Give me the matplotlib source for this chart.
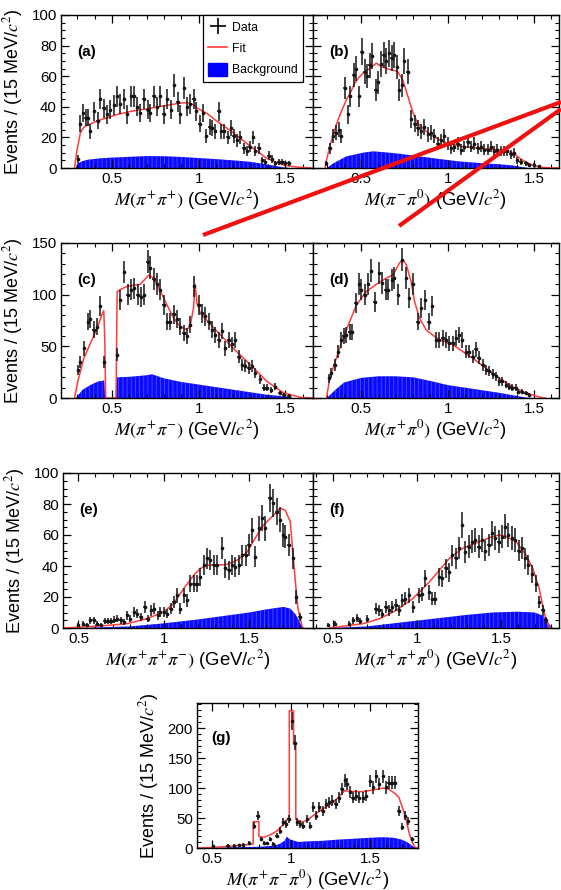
import numpy as np
import matplotlib
matplotlib.use('Agg')
import matplotlib.pyplot as plt
from matplotlib.lines import Line2D
from matplotlib.patches import Patch
from matplotlib.ticker import MultipleLocator, FixedLocator, FixedFormatter

plt.rcParams['font.family'] = ['Liberation Sans', 'DejaVu Sans']
plt.rcParams['mathtext.fontset'] = 'stix'
plt.rcParams['hatch.linewidth'] = 0.5

# ---------------- data (a) M(pi+ pi+) ----------------
a_x = [0.302,0.317,0.333,0.348,0.360,0.375,0.398,0.417,0.433,0.452,0.471,0.490,0.510,0.529,0.548,0.571,0.587,0.610,0.625,0.644,
       0.663,0.683,0.706,0.721,0.740,0.760,0.779,0.798,0.817,0.840,0.860,0.879,0.894,0.917,0.933,0.952,0.971,0.987,1.006,1.025,
       1.044,1.063,1.079,1.096,1.115,1.129,1.148,1.167,1.187,1.202,1.221,1.240,1.260,1.279,1.294,1.313,1.327,1.346,1.365,1.385,
       1.404,1.423,1.442,1.462,1.481,1.500,1.519]
a_y = [6,29,36,33,33,24,37,31,45,39,35,38,41,47,42,45,35,47,47,40,36,45,38,36,47,40,47,35,45,38,54,43,35,52,40,42,45,37,29,36,
       21,27,26,24,37,24,24,20,26,21,18,20,13,11,14,20,11,13,5,4,8,6,3,4,4,3,3]
a_fit_x = [0.283,0.298,0.317,0.336,0.356,0.40,0.433,0.53,0.625,0.72,0.817,0.894,0.933,0.97,1.0,1.05,1.1,1.15,1.2,1.25,1.3,1.35,1.39,1.44,1.49,1.54,1.59,1.65]
a_fit_y = [0,12,23,26.5,28,30,31.5,35,37.4,39,41,42.4,42.8,41.3,38.5,35.5,31,27,23,18.5,14,10,6.5,4,2,1,0.4,0]
a_bkg_x = [0.29,0.30,0.33,0.36,0.43,0.5,0.6,0.7,0.8,0.9,1.0,1.1,1.2,1.3,1.4,1.49,1.53]
a_bkg_y = [0,3,4.5,5.4,6.3,6.8,7.3,7.8,7.7,7.2,6.5,5.8,5,4,2.2,0.4,0]

# ---------------- data (b) M(pi- pi0) ----------------
b_x = [0.298,0.317,0.337,0.352,0.371,0.385,0.404,0.423,0.437,0.456,0.471,0.487,0.502,0.519,0.533,0.548,0.563,0.583,0.598,0.615,
       0.629,0.644,0.660,0.675,0.692,0.706,0.721,0.737,0.750,0.769,0.788,0.808,0.827,0.846,0.865,0.885,0.904,0.923,0.942,0.962,
       0.981,1.000,1.019,1.038,1.058,1.077,1.096,1.115,1.135,1.154,1.173,1.192,1.212,1.231,1.250,1.269,1.288,1.308,1.327,1.346,
       1.365,1.385,1.404,1.423,1.452,1.471,1.500,1.529]
b_y = [3,13,21,23,25,21,52,35,47,61,65,47,76,63,60,67,73,51,56,68,74,70,75,72,74,66,51,54,70,63,32,29,26,24,27,22,23,21,16,18,
       21,16,13,14,16,12,14,17,14,16,13,14,12,12,14,11,12,11,11,11,9,10,5,4,3,2,2,1]
b_fit_x = [0.29,0.30,0.317,0.34,0.365,0.39,0.413,0.44,0.46,0.485,0.51,0.548,0.587,0.606,0.644,0.683,0.71,0.74,0.77,0.8,0.827,
           0.875,0.933,0.99,1.087,1.18,1.28,1.33,1.375,1.40,1.43,1.46,1.49,1.52,1.55,1.59,1.64]
b_fit_y = [0,6,14,23,31.5,38.5,44.5,50,55,59,62,65,68.5,67,65,64,63,57.6,46.7,36,29,24,19.6,16.3,14,13,12,11.5,9.8,8,5.4,3.5,2,1,0.4,0.1,0]
b_bkg_x = [0.30,0.337,0.413,0.51,0.567,0.644,0.72,0.837,0.95,1.067,1.18,1.3,1.375,1.41,1.47]
b_bkg_y = [0,3,7.6,10,10.9,10.2,9.3,7.6,5.9,4.3,3.3,2.4,1.7,1,0]

# ---------------- data (c) M(pi+ pi-) ----------------
c_x = [0.302,0.317,0.337,0.360,0.375,0.394,0.413,0.433,0.456,0.529,0.548,0.571,0.590,0.610,0.629,0.648,0.667,0.687,0.706,0.721,
       0.740,0.760,0.779,0.798,0.817,0.837,0.856,0.875,0.894,0.913,0.933,0.952,0.975,1.000,1.019,1.038,1.058,1.077,1.096,1.115,
       1.135,1.154,1.173,1.192,1.212,1.231,1.250,1.269,1.288,1.308,1.327,1.356,1.375,1.394,1.417,1.442,1.467,1.490,1.519]
c_y = [27,35,48,74,76,66,69,89,35,42,95,122,100,105,106,100,98,100,132,126,115,110,105,90,74,74,81,76,69,63,
       60,71,108,90,82,79,74,66,61,56,65,48,56,52,56,40,32,31,29,31,24,18,10,10,8,11,5,3,2]
c_fit_x = [0.283,0.302,0.336,0.375,0.413,0.44,0.452,0.458,0.463,0.523,0.529,0.548,0.587,0.663,0.712,0.74,0.78,0.817,0.856,0.894,
           0.933,0.952,0.97,0.979,0.99,1.01,1.106,1.2,1.3,1.394,1.49,1.587,1.66]
c_fit_y = [0,16,38,53,67,80,84.5,55,0,0,103,105,108,110,119,116,103,90,77,69,66,71,87,110,92,82,64.5,48,32,16,5,0.6,0]
c_bkg_x = [0.29,0.33,0.38,0.42,0.455,0.46,0.52,0.525,0.6,0.7,0.73,0.8,0.9,1.0,1.1,1.2,1.3,1.4,1.5,1.55]
c_bkg_y = [0,8,13,16,17,0,0,20,20.5,22,23,19,15.5,13,10.5,8,5.5,3,1.5,0]

# ---------------- data (d) M(pi+ pi0) ----------------
d_x = [0.313,0.327,0.346,0.365,0.385,0.398,0.413,0.433,0.448,0.467,0.487,0.500,0.519,0.538,0.558,0.577,0.602,0.621,0.640,0.654,
       0.679,0.692,0.712,0.737,0.760,0.775,0.798,0.827,0.846,0.871,0.890,0.910,0.933,0.952,0.971,0.990,1.010,1.029,1.048,1.067,
       1.083,1.106,1.125,1.144,1.163,1.179,1.202,1.221,1.240,1.260,1.279,1.298,1.317,1.337,1.356,1.375,1.394,1.410,1.429,1.452,1.471]
d_y = [19,24,32,45,56,60,61,64,64,92,110,105,100,110,123,93,121,111,105,105,114,116,100,134,116,97,110,74,87,95,
       74,89,56,56,58,56,53,53,58,61,56,45,45,40,47,39,32,27,26,23,21,16,16,13,11,10,10,6,6,5,3]
d_fit_x = [0.298,0.317,0.356,0.394,0.433,0.471,0.529,0.587,0.644,0.683,0.721,0.74,0.76,0.788,0.808,0.837,0.875,0.913,0.952,
           1.03,1.087,1.144,1.22,1.3,1.375,1.45,1.53,1.567]
d_fit_y = [0,19,39,58,74,90,103,110,116,119,130.6,134,129,113,93.5,77.4,66,61,56.5,51.6,45,38.7,29,19,11,5,1,0]
d_bkg_x = [0.30,0.35,0.4,0.5,0.6,0.7,0.8,0.9,1.0,1.1,1.2,1.3,1.4,1.45,1.5]
d_bkg_y = [0,8,15,19.5,21,21,20,16.5,12.5,10,7.5,5,2,0.5,0]

# ---------------- data (e) M(pi+ pi+ pi-) ----------------
e_x = [0.497,0.528,0.548,0.567,0.59,0.61,0.63,0.653,0.672,0.692,0.71,0.727,0.747,0.766,0.786,0.805,0.825,0.844,0.864,0.887,
       0.906,0.926,0.945,0.965,0.98,1.0,1.02,1.04,1.058,1.078,1.097,1.117,1.136,1.156,1.175,1.195,1.214,1.234,1.253,1.273,
       1.292,1.312,1.341,1.36,1.38,1.4,1.419,1.44,1.458,1.478,1.497,1.517,1.536,1.556,1.575,1.595,1.62,1.64,1.66,1.68,
       1.698,1.71,1.731,1.756,1.776,1.795]
e_y = [1.7,2.8,2,5,5,2.8,2,4.5,4.5,4.5,5.4,6,5,3.9,8.2,6,10.4,9.3,7,13.6,6,11.4,12.5,8.2,10.4,10.4,9.3,12.5,16.8,21,
       12.5,21,18,28.7,28.7,28.7,33,40.6,45,44,40.6,40.6,51.4,38.4,37.4,40.6,39.5,40.6,47,47,53.6,63,46,64.4,71,64.4,
       83.8,80.6,75,70,60,59,53.6,45,20,7]
e_fit_x = [0.415,0.5,0.63,0.786,0.9,1.0,1.058,1.117,1.175,1.214,1.253,1.31,1.37,1.43,1.487,1.546,1.585,1.624,1.663,1.68,
           1.71,1.74,1.756,1.77,1.785,1.81,1.82]
e_fit_y = [0,0.5,1.3,2.8,6,10.4,15.8,25.5,34,38.4,40.6,40.6,41,43.8,49,60,66.5,70.8,75,77.3,76,68.7,47,29.8,12.5,0.6,0]
e_bkg_x = [0.5,0.6,0.8,1.0,1.2,1.4,1.5,1.6,1.7,1.74,1.77,1.79,1.81,1.82]
e_bkg_y = [0,0.3,1,3,5.5,8.5,10,12,13.6,12.5,9,5,0.5,0]

# ---------------- data (f) M(pi+ pi+ pi0) ----------------
f_x = [0.470,0.510,0.595,0.619,0.643,0.658,0.702,0.753,0.773,0.793,0.813,0.833,0.852,0.872,0.892,0.911,0.931,0.951,0.975,
       1.01,1.03,1.05,1.07,1.09,1.11,1.13,1.15,1.17,1.19,1.21,1.23,1.25,1.268,1.288,1.308,1.328,1.348,1.367,1.387,
       1.407,1.427,1.447,1.466,1.486,1.506,1.526,1.545,1.565,1.585,1.605,1.625,1.645,1.664,1.684,1.708,1.728,1.748,1.767]
f_y = [1.7,2.8,2.8,5,6.7,4.5,6,12.5,11.4,9.3,13.6,11.4,13.6,14.7,11.4,18,19,21,13.6,
       21,22,32,23,19,19,33,32,38.4,36,47,45,51.4,66.5,49,52.5,55.7,56.8,52.5,56.8,
       50,53.6,61,58,55.7,59,65.4,60,58,56.8,50,51.4,45,40.6,35,28.7,16.8,11.4,5]
f_fit_x = [0.48,0.678,0.777,0.876,0.975,1.074,1.134,1.193,1.272,1.371,1.45,1.49,1.53,1.59,1.65,1.69,1.728,1.748,1.767,1.787,1.797]
f_fit_y = [0,2.8,6,11.4,19,29.8,37.4,45,51.4,55.7,59,60,59,55.7,47,38.4,25.5,14.7,6,0.6,0]
f_bkg_x = [0.5,0.7,0.9,1.1,1.3,1.45,1.6,1.7,1.75,1.78,1.8,1.81]
f_bkg_y = [0,1,3.5,6,8.5,10,10.5,10,8,4,0.5,0]

# ---------------- data (g) M(pi+ pi- pi0) ----------------
g_x = [0.51,0.6,0.64,0.673,0.70,0.735,0.767,0.79,0.81,0.83,0.85,0.87,0.89,0.91,0.933,0.95,0.97,0.985,1.006,1.023,
       1.04,1.058,1.075,1.1,1.12,1.14,1.158,1.18,1.2,1.22,1.24,1.26,1.283,1.304,1.32,1.34,1.354,1.375,1.39,1.41,
       1.433,1.454,1.475,1.5,1.52,1.54,1.558,1.58,1.6,1.617,1.638,1.658,1.68,1.7,1.72,1.74,1.767]
g_y = [3,4,4,5,5.5,9,37,54,15,9,8,15,6.7,20.5,29,43,40,48,212,176,
       43,40,37,48,37,68,54,68,62,73,76,79,73,84,98,113,107,93,84,87,
       84,84,87,112,101,120,107,120,101,109,109,109,62,35.5,54,45.5,15]
g_fit_x = [0.41,0.51,0.62,0.725,0.762,0.762,0.798,0.798,0.83,0.87,0.91,0.944,0.965,0.985,0.99,0.99,1.017,1.017,1.031,1.031,
           1.037,1.058,1.1,1.14,1.2,1.267,1.308,1.34,1.39,1.454,1.517,1.58,1.62,1.662,1.683,1.704,1.725,1.746,1.767,1.777,1.79,1.80]
g_fit_y = [0,1,3,5.5,6.7,44,44,19,18,22,28,37,43,51,53,229,229,173,173,48,
           48,43,45.5,54,65,76,87,95.5,94.4,94,96.7,100,98,90,84,68,51,26,9.4,4,0,0]
g_bkg_x = [0.5,0.6,0.8,0.9,0.93,0.96,0.975,0.99,1.02,1.05,1.1,1.2,1.3,1.4,1.5,1.58,1.65,1.7,1.74,1.77,1.79]
g_bkg_y = [0,1,2,4,7,12,19,15,12,10,11,12,14,15.5,17,18,17,14,9,3,0]

x_labels = [r'$M(\pi^{+}\pi^{+})$ (GeV/$c^{2}$)', r'$M(\pi^{-}\pi^{0})$ (GeV/$c^{2}$)',
            r'$M(\pi^{+}\pi^{-})$ (GeV/$c^{2}$)', r'$M(\pi^{+}\pi^{0})$ (GeV/$c^{2}$)',
            r'$M(\pi^{+}\pi^{+}\pi^{-})$ (GeV/$c^{2}$)', r'$M(\pi^{+}\pi^{+}\pi^{0})$ (GeV/$c^{2}$)',
            r'$M(\pi^{+}\pi^{-}\pi^{0})$ (GeV/$c^{2}$)']
panel_tags = ['(a)', '(b)', '(c)', '(d)', '(e)', '(f)', '(g)']
y_label = r'Events / (15 MeV/$c^{2}$)'
legend_labels = ['Data', 'Fit', 'Background']

# ---------------- figure ----------------
W, H = 561, 890
fig = plt.figure(figsize=(W / 100, H / 100), dpi=100)

def add_ax(l, r, t, b):
    return fig.add_axes([l / W, 1 - b / H, (r - l) / W, (b - t) / H])

FIT_C = '#ff3b3b'
BKG_C = '#0a0aff'

panels = [
    dict(box=(61, 313, 15, 168), xlim=(0.205, 1.66), ylim=(0, 100), ymaj=20, ymin=5, ylab=True,
         data=(a_x, a_y), fit=(a_fit_x, a_fit_y), bkg=(a_bkg_x, a_bkg_y)),
    dict(box=(313, 559, 15, 168), xlim=(0.22, 1.645), ylim=(0, 100), ymaj=20, ymin=5, ylab=False,
         data=(b_x, b_y), fit=(b_fit_x, b_fit_y), bkg=(b_bkg_x, b_bkg_y)),
    dict(box=(61, 313, 243, 398), xlim=(0.205, 1.66), ylim=(0, 150), ymaj=50, ymin=10, ylab=True,
         data=(c_x, c_y), fit=(c_fit_x, c_fit_y), bkg=(c_bkg_x, c_bkg_y)),
    dict(box=(313, 559, 243, 398), xlim=(0.22, 1.645), ylim=(0, 150), ymaj=50, ymin=10, ylab=False,
         data=(d_x, d_y), fit=(d_fit_x, d_fit_y), bkg=(d_bkg_x, d_bkg_y)),
    dict(box=(63, 313, 473, 628), xlim=(0.41, 1.873), ylim=(0, 100), ymaj=20, ymin=5, ylab=True,
         data=(e_x, e_y), fit=(e_fit_x, e_fit_y), bkg=(e_bkg_x, e_bkg_y)),
    dict(box=(313, 559, 473, 628), xlim=(0.38, 1.846), ylim=(0, 100), ymaj=20, ymin=5, ylab=False,
         data=(f_x, f_y), fit=(f_fit_x, f_fit_y), bkg=(f_bkg_x, f_bkg_y)),
    dict(box=(197, 418, 703, 848), xlim=(0.407, 1.803), ylim=(0, 242), ymaj=50, ymin=10, ylab=True,
         data=(g_x, g_y), fit=(g_fit_x, g_fit_y), bkg=(g_bkg_x, g_bkg_y)),
]

axes = []
for i, p in enumerate(panels):
    ax = add_ax(*p['box'])
    axes.append(ax)
    bx, byv = p['bkg']
    ax.fill_between(bx, 0, byv, facecolor=BKG_C, edgecolor='#5a5aff', hatch='||||', linewidth=0, zorder=1)
    fx, fy = p['fit']
    ax.plot(fx, fy, color=FIT_C, lw=1.1, zorder=2)
    dx, dy = p['data']
    dy = np.asarray(dy, dtype=float)
    ax.errorbar(dx, dy, yerr=np.sqrt(dy), xerr=0.0075, fmt='o', ms=1.6, color='#151515',
                elinewidth=1.1, capsize=0, zorder=3)
    ax.set_xlim(*p['xlim'])
    ax.set_ylim(*p['ylim'])
    ax.xaxis.set_major_locator(FixedLocator([0.5, 1.0, 1.5]))
    ax.xaxis.set_major_formatter(FixedFormatter(['0.5', '1', '1.5']))
    ax.xaxis.set_minor_locator(MultipleLocator(0.1))
    ax.yaxis.set_major_locator(MultipleLocator(p['ymaj']))
    ax.yaxis.set_minor_locator(MultipleLocator(p['ymin']))
    ax.tick_params(which='both', direction='in', top=True, right=True, labelsize=10.8, pad=3)
    ax.tick_params(which='major', length=6, width=0.9)
    ax.tick_params(which='minor', length=3, width=0.8)
    if not p['ylab']:
        ax.tick_params(labelleft=False)
    else:
        ax.set_ylabel(y_label, fontsize=13, labelpad=5)
    ax.set_xlabel(x_labels[i], fontsize=13.3, labelpad=1)
    for s in ax.spines.values():
        s.set_linewidth(1.0)
    ax.text(0.065, 0.76, panel_tags[i], transform=ax.transAxes, fontsize=11, fontweight='bold',
            ha='left', va='center')

# legend in panel (a)
handles = [Line2D([], [], color='black', marker='+', markersize=12, markeredgewidth=1.2, linestyle='none'),
           Line2D([], [], color=FIT_C, lw=1.2),
           Patch(facecolor='blue', edgecolor='blue')]
leg = axes[0].legend(handles, legend_labels, loc='upper left', bbox_to_anchor=(0.563, 1.0),
                     borderaxespad=0, fontsize=8.8, frameon=True, fancybox=False, edgecolor='black',
                     handlelength=1.5, handleheight=1.3, labelspacing=0.6, borderpad=0.45,
                     handletextpad=0.4)
leg.get_frame().set_linewidth(0.9)
leg.get_frame().set_alpha(1)

# hand-drawn red annotation strokes on the figure
for (x1, y1, x2, y2) in [(203, 235, 561, 102), (399, 226, 561, 109)]:
    fig.add_artist(Line2D([x1 / W, x2 / W], [1 - y1 / H, 1 - y2 / H], transform=fig.transFigure,
                          color='#f01010', lw=3.0, solid_capstyle='butt', zorder=20))

fig.savefig('out.png', dpi=100)
